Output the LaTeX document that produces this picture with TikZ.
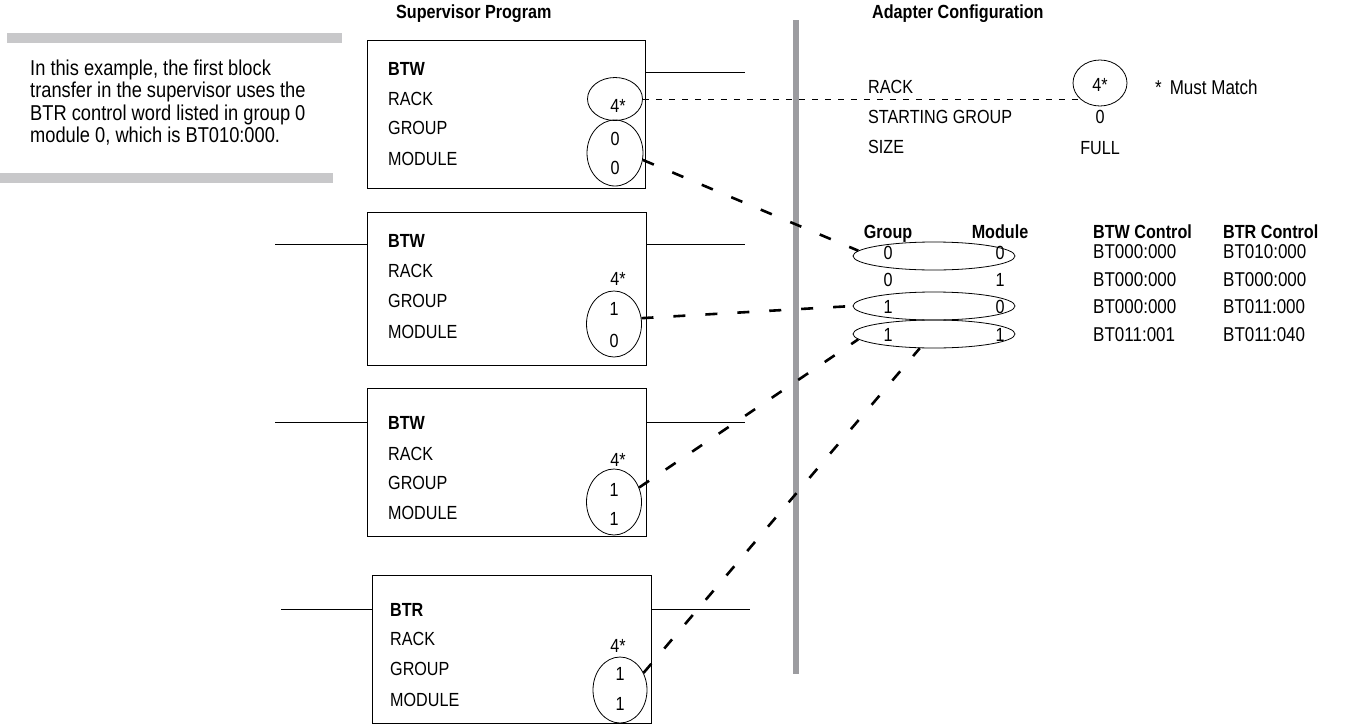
\documentclass[tikz,border=0pt]{standalone}
\usepackage{fontspec}
\setmainfont{Liberation Sans}[FakeStretch=0.85]
\usetikzlibrary{shapes.geometric}
\definecolor{barlight}{HTML}{C8C8CA}
\definecolor{bardark}{HTML}{9C9CA0}
\begin{document}
\begin{tikzpicture}[x=1pt,y=-1pt,
  lab/.style={anchor=base west, inner sep=0pt, font=\fontsize{19}{19}\selectfont},
  blab/.style={lab, font=\fontsize{19}{19}\selectfont\bfseries},
  num/.style={anchor=base, inner sep=0pt, font=\fontsize{19}{19}\selectfont},
  bnum/.style={num, font=\fontsize{19}{19}\selectfont\bfseries},
  tlab/.style={lab, font=\fontsize{20}{20}\selectfont},
  box/.style={draw, line width=0.9pt, rectangle, anchor=north west, minimum width=278pt, minimum height=148pt, inner sep=0pt},
  oval/.style={draw, ellipse, line width=0.8pt, inner sep=0pt},
  boval/.style={oval, minimum width=55pt, minimum height=66pt},
  toval/.style={oval, minimum width=162pt, minimum height=28pt},
  rung/.style={line width=0.8pt},
  thindash/.style={line width=1pt, dash pattern=on 6pt off 7pt},
  thickdash/.style={line width=2.6pt, dash pattern=on 12pt off 20pt}
]
\useasboundingbox (0,0) rectangle (1345,726);
% gray bars
\fill[barlight] (7,33) rectangle (342,43);
\fill[barlight] (0,173) rectangle (333,183);
\fill[bardark] (793,20) rectangle (799,674);

% note
\node[anchor=north west, inner sep=0pt, align=left, font=\fontsize{21.5}{22.5}\selectfont] (note) at (30,59.5)
  {In this example, the first block\\transfer in the supervisor uses the\\BTR control word listed in group 0\\module 0, which is BT010:000.};

% titles
\node[blab] (tsup) at (396,18) {Supervisor Program};
\node[blab] (tad) at (872,18) {Adapter Configuration};

% boxes
\node[box] (b1) at (367,40) {};
\node[box, minimum height=153pt, minimum width=279pt] (b2) at (367,212) {};
\node[box, minimum width=279pt] (b3) at (367,388) {};
\node[box, minimum width=279pt] (b4) at (372,575) {};

% rungs
\coordinate (r1) at (745,72);
\coordinate (l2) at (275,244); \coordinate (r2) at (745,244);
\coordinate (l3) at (275,422); \coordinate (r3) at (745,422);
\coordinate (l4) at (281,609); \coordinate (r4) at (750,609);
\draw[rung] (r1 -| b1.east) -- (r1);
\draw[rung] (l2) -- (l2 -| b2.west); \draw[rung] (r2 -| b2.east) -- (r2);
\draw[rung] (l3) -- (l3 -| b3.west); \draw[rung] (r3 -| b3.east) -- (r3);
\draw[rung] (l4) -- (l4 -| b4.west); \draw[rung] (r4 -| b4.east) -- (r4);

% box 1 texts
\node[blab] (b1t) at (388,75) {BTW};
\node[lab] (b1a) at (388,105) {RACK};
\node[lab] (b1b) at (388,134) {GROUP};
\node[lab] (b1c) at (388,165) {MODULE};
\node[oval, minimum width=55pt, minimum height=43pt] (b1r) at (615,99) {};
\node[num] (b1n0) at (618,112) {4*};
\node[boval, minimum width=56pt] (b1g) at (615,153) {};
\node[num] (b1n1) at (615,145) {0};
\node[num] (b1n2) at (615,174) {0};

% box 2 texts
\node[blab] (b2t) at (388,247) {BTW};
\node[lab] (b2a) at (388,277) {RACK};
\node[lab] (b2b) at (388,307) {GROUP};
\node[lab] (b2c) at (388,338) {MODULE};
\node[num] (b2n0) at (618,285) {4*};
\node[boval] (b2g) at (614,324) {};
\node[num] (b2n1) at (614,315) {1};
\node[num] (b2n2) at (614,347) {0};

% box 3 texts
\node[blab] (b3t) at (388,429) {BTW};
\node[lab] (b3a) at (388,460) {RACK};
\node[lab] (b3b) at (388,489) {GROUP};
\node[lab] (b3c) at (388,519) {MODULE};
\node[num] (b3n0) at (618,466) {4*};
\node[boval] (b3g) at (614,502) {};
\node[num] (b3n1) at (614,496) {1};
\node[num] (b3n2) at (614,525) {1};

% box 4 texts
\node[blab] (b4t) at (390,616) {BTR};
\node[lab] (b4a) at (390,645) {RACK};
\node[lab] (b4b) at (390,675) {GROUP};
\node[lab] (b4c) at (390,706) {MODULE};
\node[num] (b4n0) at (618,652) {4*};
\node[boval, minimum width=54pt] (b4g) at (620,690) {};
\node[num] (b4n1) at (620,680) {1};
\node[num] (b4n2) at (620,710) {1};

% adapter configuration
\node[lab] (aa) at (868,93) {RACK};
\node[lab] (ab) at (868,123) {STARTING GROUP};
\node[lab] (ac) at (868,153) {SIZE};
\node[oval, minimum width=54pt, minimum height=46pt] (ar) at (1100,83) {};
\node[num] (av0) at (1100,91) {4*};
\node[num] (av1) at (1100,123) {0};
\node[num] (av2) at (1100,154) {FULL};
\node[tlab] (must) at (1155,94) {*\hspace{8pt}Must Match};

% table
\node[bnum] (hg) at (888,238) {Group};
\node[bnum] (hm) at (1000,238) {Module};
\node[toval] (t1) at (934,256) {};
\node[toval] (t3) at (934,306) {};
\node[toval] (t4) at (934,334) {};
\node[num] (g1) at (888,259) {0}; \node[num] (m1) at (1000,259) {0};
\node[num] (g2) at (888,286) {0}; \node[num] (m2) at (1000,286) {1};
\node[num] (g3) at (888,313) {1}; \node[num] (m3) at (1000,313) {0};
\node[num] (g4) at (888,341) {1}; \node[num] (m4) at (1000,341) {1};

\node[blab] (hw) at (1093,238) {BTW Control};
\node[tlab] (w1) at (1093,258) {BT000:000};
\node[tlab] (w2) at (1093,286) {BT000:000};
\node[tlab] (w3) at (1093,313) {BT000:000};
\node[tlab] (w4) at (1093,341) {BT011:001};
\node[blab] (hr) at (1223,238) {BTR Control};
\node[tlab] (rr1) at (1223,258) {BT010:000};
\node[tlab] (rr2) at (1223,286) {BT000:000};
\node[tlab] (rr3) at (1223,313) {BT011:000};
\node[tlab] (rr4) at (1223,341) {BT011:040};

% connectors
\draw[thindash] (b1r.east) -- (b1r.east -| ar.215);
\draw[thickdash] (b1g.-14) -- (t1.176);
\draw[thickdash] (b2g.12) -- (t3.180);
\draw[thickdash] (b3g.30) -- (t4.184);
\draw[thickdash] (b4g.36) -- (t4.225);
\end{tikzpicture}
\end{document}
